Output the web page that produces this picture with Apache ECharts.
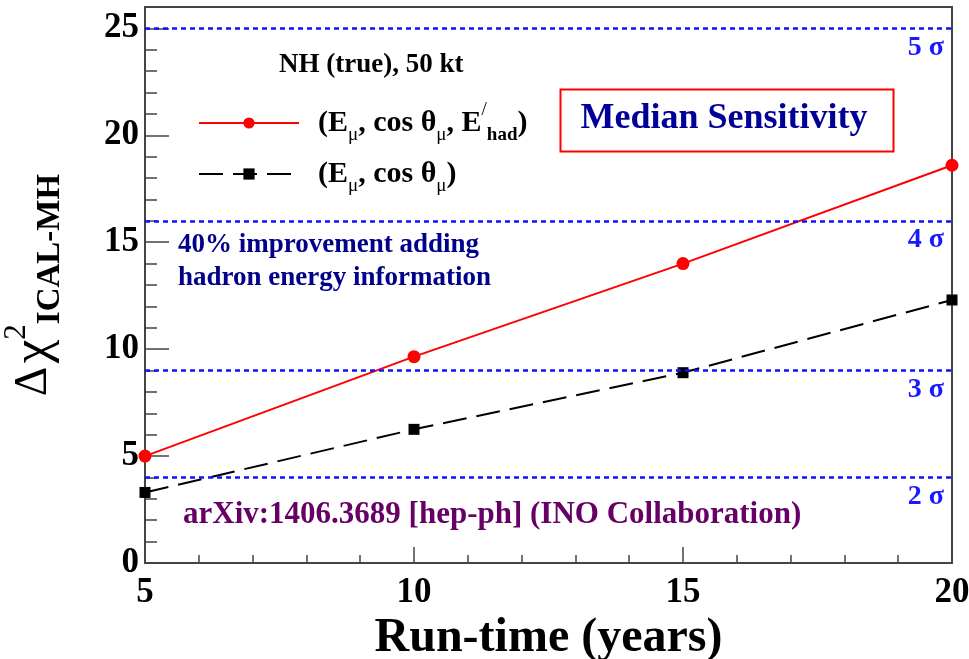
<!DOCTYPE html>
<html>
<head>
<meta charset="utf-8">
<script src="https://cdn.jsdelivr.net/npm/echarts@6/dist/echarts.min.js"></script>
<style>
  html, body { margin: 0; padding: 0; background: #fff; }
  #chart { width: 969px; height: 659px; }
</style>
</head>
<body>
<div id="chart"></div>
<script>
const years = [5, 10, 15, 20];
const withHadron = [5.0, 9.65, 14.0, 18.6];
const withoutHadron = [3.3, 6.25, 8.9, 12.3];
const sigmaLevels = [4, 9, 16, 25];
const sigmaLabels = ["2 σ", "3 σ", "4 σ", "5 σ"];

const serif = "Liberation Serif";

const chart = echarts.init(document.getElementById("chart"));

const legendRich = {
  n: { fontFamily: serif, fontWeight: "bold", fontSize: 30, color: "#000", lineHeight: 44, verticalAlign: "middle" },
  s: { fontFamily: serif, fontSize: 19, color: "#000", lineHeight: 44, verticalAlign: "bottom" },
  sb: { fontFamily: serif, fontWeight: "bold", fontSize: 19, color: "#000", lineHeight: 44, verticalAlign: "bottom" },
  p: { fontFamily: serif, fontSize: 19, color: "#000", lineHeight: 44, verticalAlign: "top" },
};

chart.setOption({
  animation: false,
  grid: {
    left: 145, right: 17, top: 7, bottom: 96,
    containLabel: false,
    outerBoundsMode: "none",
    show: true, borderColor: "#444", borderWidth: 2,
  },
  xAxis: {
    type: "value",
    min: 5, max: 20, interval: 5,
    name: "Run-time (years)",
    nameLocation: "middle",
    nameGap: 38,
    nameTextStyle: { fontFamily: serif, fontWeight: "bold", fontSize: 48, color: "#000" },
    axisLine: { lineStyle: { color: "#444", width: 2 } },
    axisTick: { inside: true, length: 16, lineStyle: { color: "#444", width: 1.5 } },
    minorTick: { show: true, splitNumber: 5, length: 8, lineStyle: { color: "#444", width: 1.5 } },
    splitLine: { show: false },
    axisLabel: { fontFamily: serif, fontWeight: "bold", fontSize: 35, color: "#000", margin: 12 },
  },
  yAxis: [
    {
      type: "value",
      min: 0, max: 26, interval: 5,
      name: "{d|Δ} {c|χ}{p|2}{b|ICAL-MH}",
      nameLocation: "middle",
      nameGap: 78,
      nameRotate: 90,
      nameTextStyle: {
        rich: {
          d: { fontFamily: serif, fontSize: 46, color: "#000", lineHeight: 66, verticalAlign: "middle" },
          c: { fontFamily: serif, fontSize: 53, color: "#000", lineHeight: 66, verticalAlign: "middle" },
          p: { fontFamily: serif, fontSize: 31, color: "#000", lineHeight: 66, verticalAlign: "top" },
          b: { fontFamily: serif, fontWeight: "bold", fontSize: 33, color: "#000", lineHeight: 66, verticalAlign: "bottom" },
        },
      },
      axisLine: { lineStyle: { color: "#444", width: 2 } },
      axisTick: { inside: true, length: 24, lineStyle: { color: "#444", width: 1.5 } },
      splitLine: { show: false },
      axisLabel: {
        fontFamily: serif, fontWeight: "bold", fontSize: 35, color: "#000", margin: 6,
        showMaxLabel: false,
        formatter: (v) => (v % 5 === 0 ? String(v) : ""),
      },
    },
    {
      type: "value",
      min: 0, max: 26, interval: 1,
      position: "left",
      axisLine: { show: false },
      axisTick: { inside: true, length: 12, lineStyle: { color: "#444", width: 1.5 } },
      axisLabel: { show: false },
      splitLine: { show: false },
    },
  ],
  legend: {
    orient: "vertical",
    left: 193,
    top: 96,
    itemWidth: 100,
    itemHeight: 14,
    itemGap: 14,
    selectedMode: false,
    data: ["full", "muon"],
    formatter: (name) =>
      name === "full"
        ? "{n|(E}{s|μ}{n|, cos θ}{s|μ}{n|, E}{p|/}{sb|had}{n|)}"
        : "{n|(E}{s|μ}{n|, cos θ}{s|μ}{n|)}",
    textStyle: { rich: legendRich, padding: [0, 0, 0, 14] },
  },
  graphic: [
    {
      type: "text", left: 279, top: 52,
      style: { text: "NH (true), 50 kt", font: "bold 27px 'Liberation Serif'", fill: "#000" },
    },
    {
      type: "rect", left: 558, top: 87,
      shape: { width: 333, height: 62 },
      style: { fill: "none", stroke: "#ff0000", lineWidth: 2 },
    },
    {
      type: "text", x: 724, y: 119,
      style: {
        text: "Median Sensitivity", font: "bold 36px 'Liberation Serif'", fill: "#000099",
        align: "center", verticalAlign: "middle",
      },
    },
    {
      type: "text", left: 178, top: 229,
      style: {
        text: "40% improvement adding\nhadron energy information",
        font: "bold 27px 'Liberation Serif'", lineHeight: 33, fill: "#00008b",
      },
    },
    {
      type: "text", left: 183, top: 499,
      style: { text: "arXiv:1406.3689 [hep-ph] (INO Collaboration)", font: "bold 31px 'Liberation Serif'", fill: "#660066" },
    },
  ],
  series: [
    {
      name: "muon",
      type: "line",
      data: years.map((x, i) => [x, withoutHadron[i]]),
      symbol: "rect",
      symbolSize: 11,
      itemStyle: { color: "#000" },
      lineStyle: { color: "#000", width: 2, type: [24, 10] },
      z: 3,
      markLine: {
        silent: true,
        symbol: "none",
        lineStyle: { color: "#1010ff", width: 2.5, type: [5, 4] },
        label: {
          position: "insideEndBottom",
          distance: [8, 5],
          formatter: (p) => p.name,
          fontFamily: serif, fontWeight: "bold", fontSize: 28, color: "#1a1aff",
        },
        data: sigmaLevels.map((v, i) => ({ yAxis: v, name: sigmaLabels[i] })),
      },
    },
    {
      name: "full",
      type: "line",
      data: years.map((x, i) => [x, withHadron[i]]),
      symbol: "circle",
      symbolSize: 13,
      itemStyle: { color: "#ff0000" },
      lineStyle: { color: "#ff0000", width: 2 },
      z: 4,
    },
  ],
});
</script>
</body>
</html>
